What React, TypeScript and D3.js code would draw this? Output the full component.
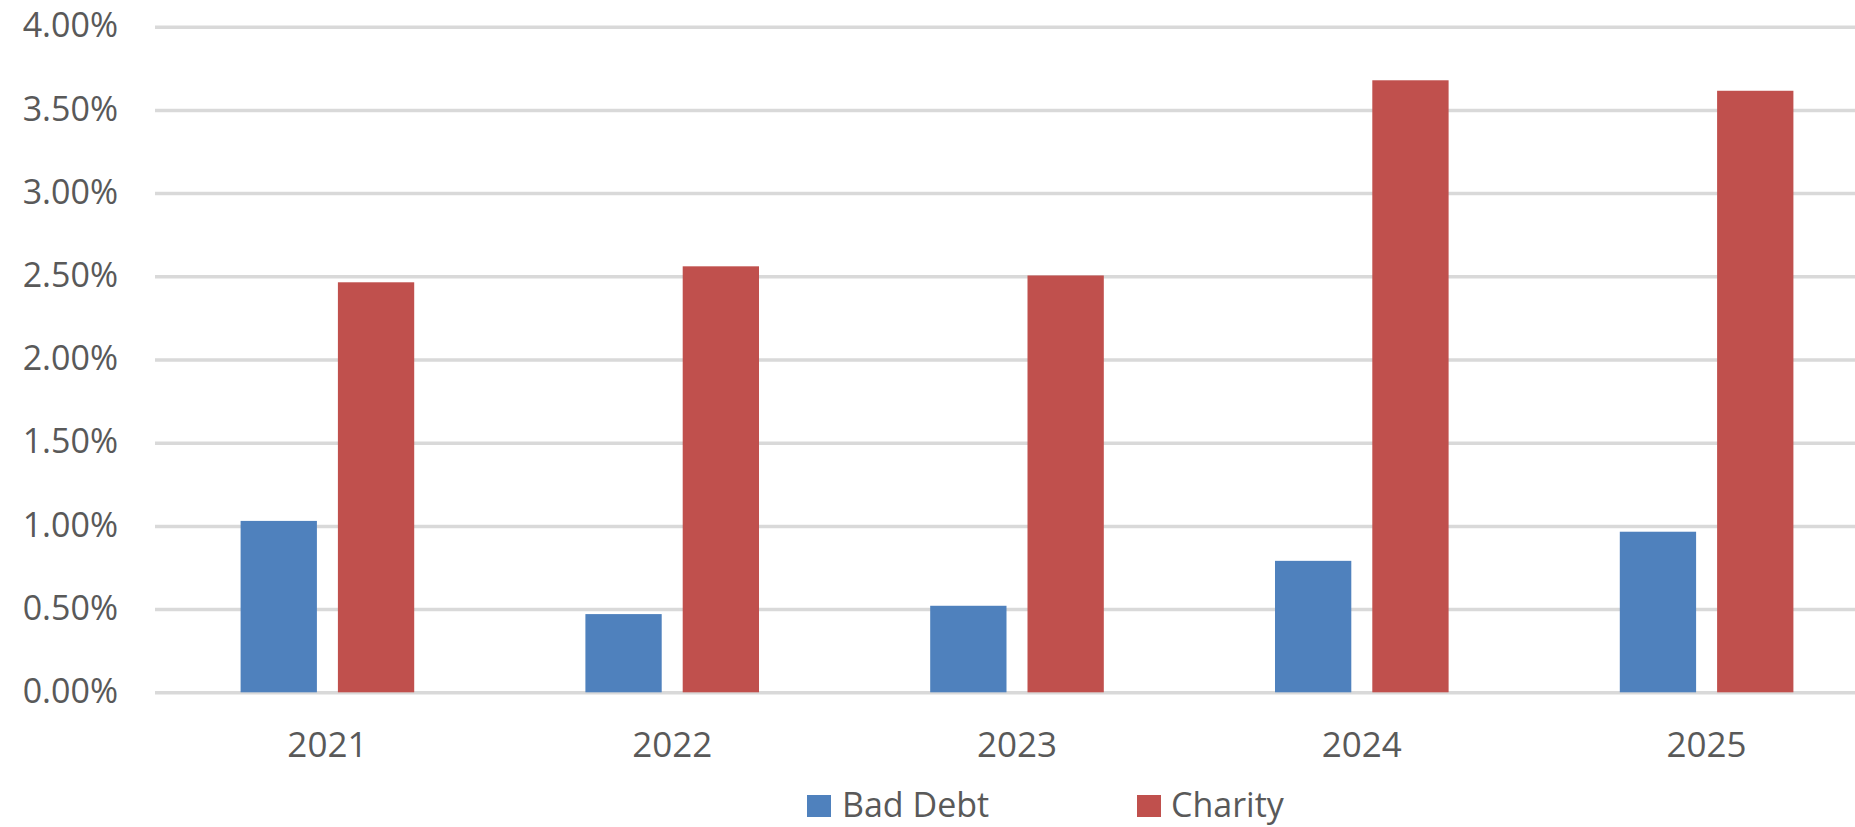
import * as d3 from "d3";
import { useRef, useEffect } from "react";

const width = 1855;
const height = 827;
const marginLeft = 155;
const plotRight = 1879; // the plot runs past the right edge of the picture
const yTop = 26.7;
const yBottom = 692.3;

const years = ["2021", "2022", "2023", "2024", "2025"];
const seriesNames = ["Bad Debt", "Charity"];
const badDebt = [0.0103, 0.0047, 0.0052, 0.0079, 0.00965];
const charity = [0.02464, 0.0256, 0.02505, 0.03678, 0.03615];
const yTicks = [0, 0.005, 0.01, 0.015, 0.02, 0.025, 0.03, 0.035, 0.04];

const colors = ["#4F81BD", "#C0504D"];
const fontFamily = "'Open Sans', sans-serif";
const textColor = "#595959";

const App = () => {
  const gy = useRef<SVGGElement>(null);
  const gx = useRef<SVGGElement>(null);

  const x0 = d3
    .scaleBand()
    .domain(years)
    .range([marginLeft, plotRight])
    .paddingInner(0.4965)
    .paddingOuter(0.4965 / 2);

  const x1 = d3
    .scaleBand()
    .domain(seriesNames)
    .range([0, x0.bandwidth()])
    .paddingInner(0.2158);

  const y = d3.scaleLinear().domain([0, 0.04]).range([yBottom, yTop]);

  useEffect(() => {
    if (gy.current) {
      const g = d3.select(gy.current);
      g.call(
        d3
          .axisLeft(y)
          .tickValues(yTicks)
          .tickFormat(d3.format(".2%") as any)
          .tickSize(0)
          .tickPadding(37)
      )
        .call((g) => g.select(".domain").remove())
        .call((g) =>
          g
            .selectAll(".tick line")
            .attr("x2", plotRight - marginLeft)
            .attr("stroke", "#D9D9D9")
            .attr("stroke-width", 3.5)
        )
        .call((g) =>
          g
            .selectAll(".tick text")
            .attr("fill", textColor)
            .attr("font-size", 34)
            .attr("font-family", fontFamily)
            .attr("dy", "0.3em")
        );
    }
    if (gx.current) {
      const g = d3.select(gx.current);
      g.call(d3.axisBottom(x0).tickSize(0).tickPadding(40))
        .call((g) => g.select(".domain").remove())
        .call((g) =>
          g
            .selectAll(".tick text")
            .attr("fill", textColor)
            .attr("font-size", 35)
            .attr("font-family", fontFamily)
        );
    }
    return () => {
      if (gy.current) d3.select(gy.current).selectAll("*").remove();
      if (gx.current) d3.select(gx.current).selectAll("*").remove();
    };
  }, []);

  const values = [badDebt, charity];

  return (
    <div style={{ position: "absolute", left: 0, top: 0 }}>
      <svg width={width} height={height} viewBox={`0 0 ${width} ${height}`} style={{ display: "block", background: "#fff" }}>
        <g ref={gy} transform={`translate(${marginLeft}, 0)`} />
        {years.map((yr, i) => (
          <g key={yr} transform={`translate(${x0(yr)}, 0)`}>
            {seriesNames.map((s, j) => (
              <rect
                key={s}
                x={x1(s)}
                y={y(values[j][i])}
                width={x1.bandwidth()}
                height={y(0) - y(values[j][i])}
                fill={colors[j]}
              />
            ))}
          </g>
        ))}
        <g ref={gx} transform={`translate(0, ${yBottom})`} />
        {/* legend, nudged up a little so the descenders stay inside */}
        <g fontFamily={fontFamily} fontSize={34} fill={textColor}>
          <rect x={807} y={795} width={24} height={22} fill={colors[0]} />
          <text x={842} y={817}>{seriesNames[0]}</text>
          <rect x={1137} y={795} width={24} height={22} fill={colors[1]} />
          <text x={1171} y={817}>{seriesNames[1]}</text>
        </g>
      </svg>
    </div>
  );
};

export default App;
